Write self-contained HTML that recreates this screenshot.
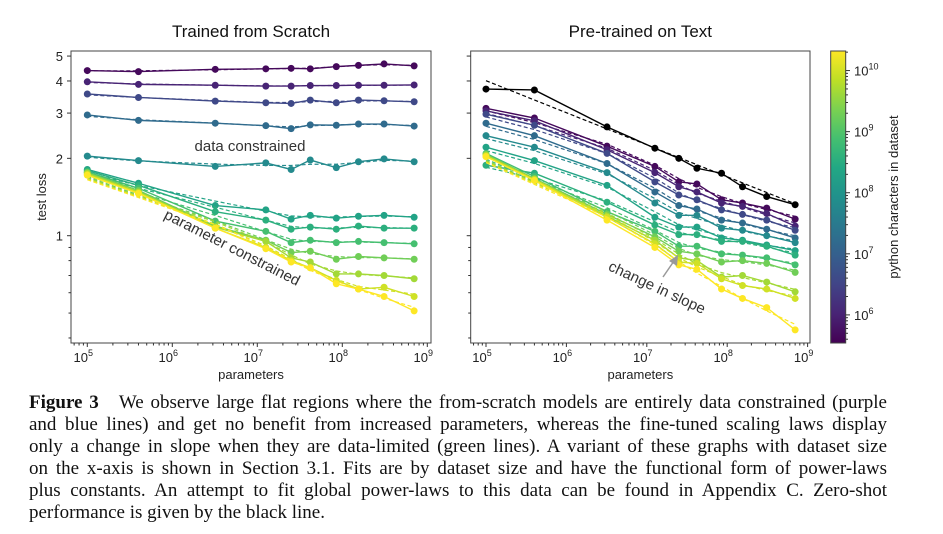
<!DOCTYPE html>
<html><head><meta charset="utf-8"><style>
body{margin:0;background:#fff;width:943px;height:534px;overflow:hidden;font-family:"Liberation Sans",sans-serif}
svg{position:absolute;left:0;top:0}
#cap{position:absolute;left:29px;top:392px;width:858px;font-family:"Liberation Serif",serif;font-size:19px;color:#111}
#cap div{height:22px;line-height:22px;text-align:justify;text-align-last:justify;white-space:nowrap;overflow:hidden}
#cap div.last{text-align-last:left}
</style></head><body>
<svg id="chart" width="943" height="390"></svg>
<div id="cap">
<div style="white-space:normal"><b>Figure 3</b>&nbsp;&nbsp; We observe large flat regions where the from-scratch models are entirely data constrained (purple</div>
<div style="white-space:normal">and blue lines) and get no benefit from increased parameters, whereas the fine-tuned scaling laws display</div>
<div style="white-space:normal">only a change in slope when they are data-limited (green lines). A variant of these graphs with dataset size</div>
<div style="white-space:normal">on the x-axis is shown in Section 3.1. Fits are by dataset size and have the functional form of power-laws</div>
<div style="white-space:normal">plus constants. An attempt to fit global power-laws to this data can be found in Appendix C. Zero-shot</div>
<div class="last">performance is given by the black line.</div>
</div>
<script>
const params = [1e5, 4e5, 3.2e6, 1.26e7, 2.5e7, 4.2e7, 8.5e7, 1.55e8, 3.1e8, 7e8];
const datasetSizes = [4.4e5, 1.05e6, 3.9e6, 1.6e7, 6.2e7, 2.0e8, 3.5e8, 7.8e8, 1.9e9, 4.5e9, 9.5e9, 2.1e10];
const scratchLoss = [
 [4.39,4.35,4.44,4.46,4.48,4.46,4.55,4.60,4.66,4.58],
 [3.97,3.88,3.85,3.82,3.82,3.84,3.84,3.85,3.85,3.86],
 [3.56,3.45,3.34,3.29,3.27,3.37,3.29,3.37,3.35,3.32],
 [2.95,2.81,2.74,2.68,2.61,2.70,2.69,2.72,2.72,2.67],
 [2.04,1.96,1.86,1.92,1.81,1.97,1.84,1.94,1.99,1.94],
 [1.81,1.60,1.31,1.26,1.16,1.20,1.17,1.19,1.20,1.18],
 [1.79,1.57,1.24,1.15,1.06,1.08,1.06,1.09,1.07,1.07],
 [1.77,1.53,1.14,1.04,0.94,0.96,0.94,0.95,0.94,0.93],
 [1.76,1.50,1.09,0.96,0.86,0.87,0.81,0.83,0.82,0.81],
 [1.75,1.48,1.08,0.95,0.82,0.79,0.71,0.71,0.70,0.68],
 [1.73,1.47,1.07,0.90,0.80,0.75,0.67,0.62,0.63,0.58],
 [1.72,1.46,1.07,0.89,0.79,0.75,0.65,0.62,0.58,0.51]
];
const pretrainedLoss = [
 [3.13,2.87,2.23,1.86,1.62,1.59,1.38,1.34,1.28,1.16],
 [3.06,2.80,2.16,1.76,1.55,1.48,1.34,1.30,1.22,1.09],
 [2.97,2.69,2.09,1.62,1.44,1.38,1.26,1.21,1.15,1.05],
 [2.74,2.45,1.91,1.48,1.31,1.27,1.15,1.12,1.06,0.98],
 [2.45,2.21,1.76,1.34,1.20,1.20,1.07,1.05,1.00,0.94],
 [2.21,1.96,1.57,1.18,1.08,1.08,0.98,0.96,0.92,0.875],
 [1.88,1.75,1.35,1.10,1.01,1.01,0.95,0.95,0.91,0.84],
 [2.09,1.70,1.24,1.04,0.91,0.91,0.85,0.84,0.82,0.77],
 [2.07,1.67,1.21,0.99,0.87,0.85,0.79,0.80,0.78,0.72],
 [2.06,1.66,1.19,0.96,0.82,0.80,0.69,0.70,0.66,0.605],
 [2.04,1.65,1.18,0.93,0.79,0.78,0.68,0.64,0.62,0.57],
 [2.03,1.64,1.15,0.90,0.77,0.74,0.62,0.57,0.525,0.43]
];
const zeroShotLoss = [3.72,3.69,2.65,2.19,2.00,1.83,1.75,1.55,1.42,1.32];
const zeroShotFitEnds = [4.01, 1.33];
const yTickLabels = [1,2,3,4,5];
const yMinorTicks = [0.4,0.5,0.6,0.7,0.8,0.9];
const xTickExps = [5,6,7,8,9];
const cbTickExps = [6,7,8,9,10];

const NS="http://www.w3.org/2000/svg";
const svg=document.getElementById('chart');
function mk(tag,attrs,parent){const e=document.createElementNS(NS,tag);for(const k in attrs)e.setAttribute(k,attrs[k]);(parent||svg).appendChild(e);return e;}
const L10=Math.log10;
const yS=l=>235.7-257*L10(l);
const xL=p=>87.3+85*(L10(p)-5);
const xR=p=>486+80.4*(L10(p)-5);
const cbLo=5.54, cbHi=10.32, cbTop=51, cbBot=343;
const cbY=v=>cbBot-(L10(v)-cbLo)/(cbHi-cbLo)*(cbBot-cbTop);
const stops=["#440154","#482475","#414487","#355f8d","#2a788e","#21918c","#22a884","#44bf70","#7ad151","#bddf26","#fde725"];
function hex(h){return [1,3,5].map(i=>parseInt(h.substr(i,2),16));}
function viridis(t){t=Math.max(0,Math.min(1,t));const f=t*10,i=Math.min(9,Math.floor(f)),r=f-i;const a=hex(stops[i]),b=hex(stops[i+1]);return 'rgb('+a.map((v,k)=>Math.round(v+(b[k]-v)*r)).join(',')+')';}
const colorFor=s=>viridis((L10(s)-cbLo)/(cbHi-cbLo));
function smooth(arr){return arr.map((v,i)=>{const a=arr[Math.max(0,i-1)],c=arr[Math.min(arr.length-1,i+1)];return Math.pow(10,(L10(a)+L10(v)*2+L10(c))/4);});}

function panel(x0,x1,xf,name,title,labels){
  const g=mk('g',{});
  
  
  mk('rect',{x:x0,y:51,width:x1-x0,height:292,fill:'none',stroke:'#444','stroke-width':1},g);
  const t=mk('text',{x:(x0+x1)/2,y:37,'text-anchor':'middle','font-size':17,fill:'#111'},g);t.textContent=title;
  
  yTickLabels.forEach(v=>{mk('line',{x1:x0,x2:x0-4,y1:yS(v),y2:yS(v),stroke:'#333'},g);
    if(labels){const tx=mk('text',{x:x0-8,y:yS(v)+5,'text-anchor':'end','font-size':13,fill:'#222'},g);tx.textContent=v;
    }});
  yMinorTicks.forEach(v=>mk('line',{x1:x0,x2:x0-2.5,y1:yS(v),y2:yS(v),stroke:'#333'},g));
  xTickExps.forEach(e=>{const x=xf(Math.pow(10,e));mk('line',{x1:x,x2:x,y1:343,y2:347,stroke:'#333'},g);
    const tx=mk('text',{x:x-4,y:362,'text-anchor':'middle','font-size':13,fill:'#222'},g);tx.innerHTML='10<tspan dy="-6" font-size="9">'+e+'</tspan>';
    
    if(e<9)for(let m=2;m<10;m++){const xm=xf(m*Math.pow(10,e));mk('line',{x1:xm,x2:xm,y1:343,y2:345.5,stroke:'#333'},g);}});
  for(let m=7;m<10;m++){const xm=xf(m*1e4);if(xm>x0)mk('line',{x1:xm,x2:xm,y1:343,y2:345.5,stroke:'#333'},g);}
  const xl=mk('text',{x:(x0+x1)/2,y:379,'text-anchor':'middle','font-size':13,fill:'#222'},g);xl.textContent='parameters';
  
  return g;
}
function series(g,xf,vals,color,name,fitOverride){
  const pts=vals.map((v,i)=>[xf(params[i]),yS(v)]);
  const fit=fitOverride||smooth(vals).map((v,i)=>[xf(params[i]),yS(v)]);
  const d=mk('polyline',{points:fit.map(p=>p.join(',')).join(' '),fill:'none',stroke:color,'stroke-width':1.2,'stroke-dasharray':'4,2.5'},g);
  
  const l=mk('polyline',{points:pts.map(p=>p.join(',')).join(' '),fill:'none',stroke:color,'stroke-width':1.4},g);
  
  pts.forEach(p=>{const c=mk('circle',{cx:p[0],cy:p[1],r:3.5,fill:color},g);
    });
}
const gl=panel(71,431,xL,'scratch-panel','Trained from Scratch',true);
const gr=panel(470.7,810,xR,'pretrained-panel','Pre-trained on Text',false);
const yt=mk('text',{x:0,y:0,'text-anchor':'middle','font-size':13,fill:'#222',transform:'translate(46,197) rotate(-90)'});yt.textContent='test loss';

scratchLoss.forEach((s,i)=>series(gl,xL,s,colorFor(datasetSizes[i]),'scratch-series-'+(i+1)));
pretrainedLoss.forEach((s,i)=>series(gr,xR,s,colorFor(datasetSizes[i]),'pretrained-series-'+(i+1)));
series(gr,xR,zeroShotLoss,'#000','zero-shot',[[xR(params[0]),yS(zeroShotFitEnds[0])],[xR(params[params.length-1]),yS(zeroShotFitEnds[1])]]);
let a=mk('text',{x:250,y:151,'text-anchor':'middle','font-size':15,fill:'#333'});a.textContent='data constrained';

a=mk('text',{x:0,y:0,'text-anchor':'middle','font-size':15,fill:'#333',transform:'translate(230,252) rotate(27)'});a.textContent='parameter constrained';

a=mk('text',{x:0,y:0,'text-anchor':'middle','font-size':15,fill:'#333',transform:'translate(655,292) rotate(25)'});a.textContent='change in slope';

a=mk('line',{x1:663,y1:277,x2:674,y2:261,stroke:'#999','stroke-width':1.5});

a=mk('polygon',{points:'678,255 669,261 677,266',fill:'#999'});

const defs=mk('defs',{});const lg=mk('linearGradient',{id:'vg',x1:0,y1:1,x2:0,y2:0},defs);
stops.forEach((c,i)=>mk('stop',{offset:i/10,'stop-color':c},lg));
const cb=mk('g',{});
mk('rect',{x:830.7,y:cbTop,width:15,height:cbBot-cbTop,fill:'url(#vg)',stroke:'#444','stroke-width':1},cb);
cbTickExps.forEach(e=>{const y=cbY(Math.pow(10,e));mk('line',{x1:845.7,x2:850,y1:y,y2:y,stroke:'#333'},cb);
  const tx=mk('text',{x:854,y:y+5,'font-size':13,fill:'#222'},cb);tx.innerHTML='10<tspan dy="-6" font-size="9">'+e+'</tspan>';
  });
for(let e=5;e<=10;e++)for(let m=2;m<10;m++){const v=m*Math.pow(10,e);if(L10(v)>cbLo&&L10(v)<cbHi){const y=cbY(v);mk('line',{x1:845.7,x2:848,y1:y,y2:y,stroke:'#333'},cb);}}
const cl=mk('text',{x:0,y:0,'text-anchor':'middle','font-size':13,fill:'#222',transform:'translate(898,197) rotate(-90)'},cb);cl.textContent='python characters in dataset';

</script>
</body></html>
